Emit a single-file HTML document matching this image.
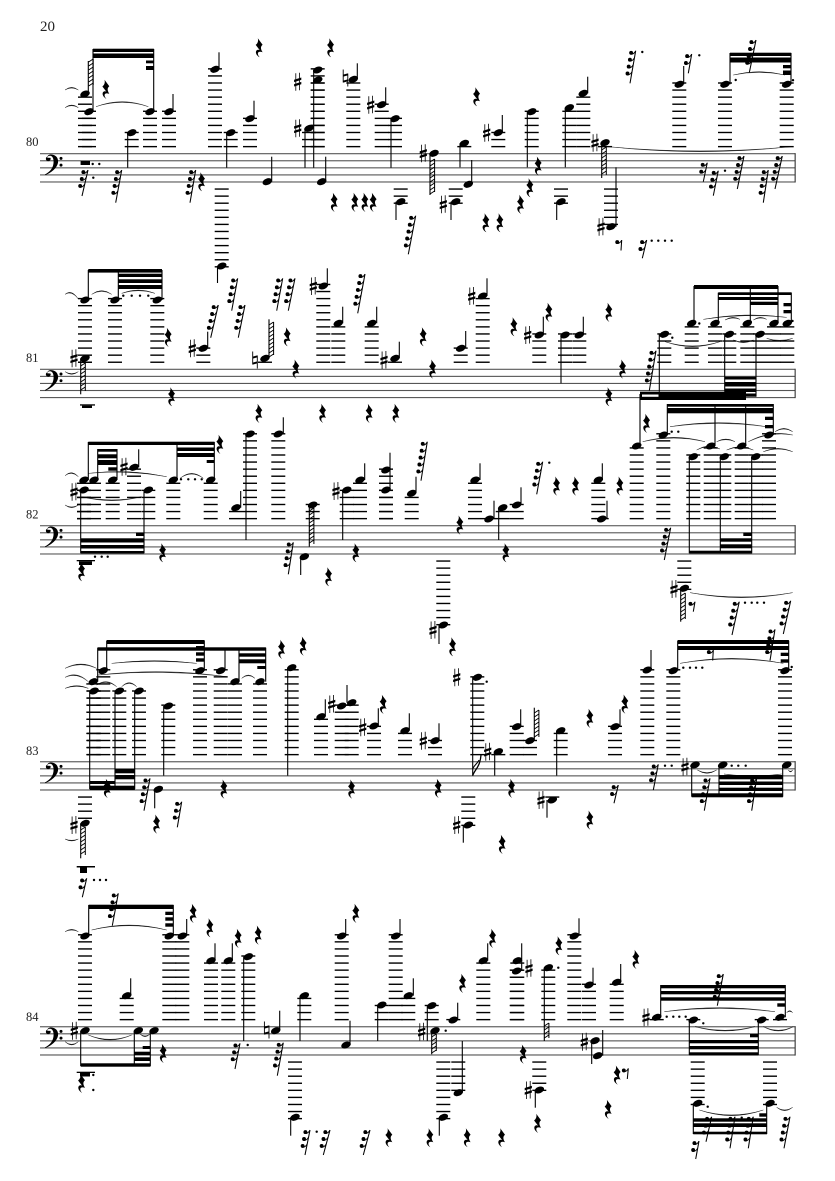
<!DOCTYPE html>
<html><head><meta charset="utf-8"><title>Score page 20</title>
<style>html,body{margin:0;padding:0;background:#fff}svg{display:block}text{font-family:"Liberation Serif",serif;fill:#222}</style></head>
<body>
<svg id="s" xmlns="http://www.w3.org/2000/svg" width="835" height="1181" viewBox="0 0 835 1181">
<rect width="835" height="1181" fill="#fff"/>
<text x="40" y="31" font-size="15">20</text>
<text x="26" y="146" font-size="12.5">80</text>
<text x="26" y="362" font-size="12.5">81</text>
<text x="26" y="518.5" font-size="12.5">82</text>
<text x="26" y="755" font-size="12.5">83</text>
<text x="26" y="1021" font-size="12.5">84</text>
<g id="m"></g>
</svg>
<script>
var o=[],top0=0,G=7.07;
function S(t,col,h){top0=t;col=col||'#555';h=h||1.1;
 for(var i=0;i<5;i++)o.push('<rect x="40" y="'+(t+i*G-h/2)+'" width="755.5" height="'+h+'" fill="'+col+'"/>');
 o.push('<rect x="794.6" y="'+(t-.5)+'" width="1.1" height="'+(4*G+1)+'" fill="#333"/>');
 o.push('<g transform="translate(45,'+(t+1)+')"><path d="M5.5,3.2a2.4,2.4 0 1,1 -3,-1.4c0,0 0,0 0,0C3,-.2 6,-.6 8,0.1C12,1.2 13.5,4.5 13,8C12,13.5 6,18 .4,20.4L0,19.7C5,17 8.6,13 8.6,7C8.6,3.5 7.4,1 5,1C3.5,1 2.4,1.8 2.2,3Z" fill="#000"/><circle cx="16" cy="3.7" r="1.5" fill="#000"/><circle cx="16" cy="10.4" r="1.5" fill="#000"/></g>');
}
function L(x1,y1,x2,y2,w,c){o.push('<line x1="'+x1+'" y1="'+y1+'" x2="'+x2+'" y2="'+y2+'" stroke="'+(c||'#000')+'" stroke-width="'+(w||1)+'"/>');}
function Rc(x1,y1,x2,y2){o.push('<rect x="'+x1+'" y="'+y1+'" width="'+(x2-x1)+'" height="'+(y2-y1)+'" fill="#000"/>');}
function Led(x,y){var k,ly,b=top0+4*G;
 if(y<top0-1.7){for(k=1;;k++){ly=top0-k*G;if(ly<y-1.8)break;L(x-7,ly,x+7,ly,1.4);}}
 if(y>b+1.7){for(k=1;;k++){ly=b+k*G;if(ly>y+1.8)break;L(x-7,ly,x+7,ly,1.4);}}
}
function A(t,x,y){
 if(t=='s')o.push('<g transform="translate('+x+','+y+')"><path d="M-1.9,-8.5V9M1.9,-9V8.5" stroke="#000" stroke-width=".8" fill="none"/><path d="M-3.6,-2L3.6,-4.2V-1.8L-3.6,.4ZM-3.6,2.4L3.6,.2V2.6L-3.6,4.8Z" fill="#000"/></g>');
 else o.push('<g transform="translate('+x+','+y+')"><path d="M-2.3,-8.5V4.5M2.3,-4.5V8.5" stroke="#000" stroke-width=".9" fill="none"/><path d="M-2.3,-3.4L2.3,-4.6V-2.6L-2.3,-1.4ZM-2.3,2.6L2.3,1.4V3.4L-2.3,4.6Z" fill="#000"/></g>');
}
function N(x,y,sx,se,t,ax,ay){Led(x,y);
 o.push('<ellipse cx="'+x+'" cy="'+y+'" rx="5" ry="3.2" transform="rotate(-22 '+x+' '+y+')" fill="#000"/>');
 if(sx!=null)L(sx,y,sx,se,1.1);
 if(t)A(t,ax,ay==null?y:ay);
}
function H(x,y0,y1,d){var p='',w=4.6*d;
 for(var y=y0;y<y1;y+=4){p+='M'+x+','+y+'L'+(x+w)+','+(y-3)+' ';}
 o.push('<path d="'+p+'M'+(x+w)+','+(y0-3)+'V'+(y1-3)+'" stroke="#000" stroke-width="1" fill="none"/>');
}
function R(x,y){o.push('<path transform="translate('+x+','+y+')" d="M-1.5,-9.5L3.3,-3C1.5,-1.5 .8,.5 3.3,4.6C1,3.6 -1.6,4 -1.4,6.2C-1.3,7.6 -.4,8.6 .4,9.6C-2.6,8 -4.2,5 -3,3C-2,1.8 -.6,1.8 .4,2.4L-3.6,-2.8C-1.4,-4.4 -.8,-7 -1.5,-9.5Z" fill="#000"/>');}
function FR(tx,ty,bx,by){var len=by-ty,n=Math.max(1,Math.round(len/8)),i,dx=(bx-tx)/len;
 L(tx,ty,bx,by,1.05);
 for(i=0;i<n;i++){var yy=ty+1+i*6.9,xx=tx+dx*(yy-ty);
  o.push('<circle cx="'+(xx-4.4)+'" cy="'+(yy+1.1)+'" r="1.95" fill="#000"/>');
  o.push('<path d="M'+(xx-5)+','+(yy+2.4)+'Q'+(xx-2)+','+(yy+3)+' '+xx+','+(yy-.6)+'" stroke="#000" stroke-width=".9" fill="none"/>');}
}
function D(x,y){o.push('<circle cx="'+x+'" cy="'+y+'" r="1.2" fill="#000"/>');}
function T(z,x1,y1,x2,y2,p){var ox=z[0],oy=z[1];x1=ox+x1/3;x2=ox+x2/3;y1=oy+y1/3;y2=oy+y2/3;p=oy+p/3;
 var cx=(x1+x2)/2,cy=2*p-(y1+y2)/2,t=p<(y1+y2)/2?1.5:-1.5;
 o.push('<path d="M'+x1+','+y1+'Q'+cx+','+cy+' '+x2+','+y2+'Q'+cx+','+(cy+t)+' '+x1+','+y1+'Z" fill="#000" stroke="#000" stroke-width=".3"/>');}
function Q(a){for(var i=0;i<a.length;i+=2)R(a[i],a[i+1]);}
function FF(a){for(var i=0;i<a.length;i+=4)FR(a[i],a[i+1],a[i+2],a[i+3]);}
function DD(a){for(var i=0;i<a.length;i+=2)D(a[i],a[i+1]);}
var Z1=[20,10],Z2=[420,30],Z3=[20,260],Z4=[420,260],Z5=[20,410],Z6=[420,410],Z7=[20,620],Z8=[420,620],Z9=[20,860],Z10=[420,860];

/* ===== system 80 ===== */
S(153.7);
N(85,94,88.3,61);H(88.6,62,88,1);
N(89,111.7,93,49);N(150,111.7,153.7,49);Rc(93,48.7,153.9,52);Rc(93,53.5,153.9,58);Rc(146,60.5,153.9,63.3);Rc(146,66,153.9,70);
T(Z1,228,290,385,290,275);T(Z1,135,240,175,240,232);T(Z1,135,293,175,293,285);
N(169,111.7,173,94);N(131.7,132.7,127.7,167.7);N(215,69.3,219,52.3);N(230.7,132.7,226.7,167.7);N(250,118.7,254,100.7);N(267.3,181.7,271.7,156.7);
N(309,128.3,305,167.7,'s',297.7);N(317.7,70,313.7,167.7);N(317.7,80,null,null,'s',297.7,81.7);N(321.7,181.7,325.7,156.7);
N(353.3,79.3,357.3,63.3,'n',345.5,78);N(381.7,104.7,385.7,87.3,'s',370.7);N(395,118.7,391,167.7);N(400.7,201.7,396,220);N(221.7,266,217.5,283);
N(434,153.3,430,195,'s',423.3);H(430,162,195,1);N(464.3,143.3,460,167.3);N(468.3,184.3,471.7,160);N(455.7,201.7,451,220,'s',443.3,204.3);
N(498.3,132.7,502.3,115,'s',486.7);N(531.7,111.7,527.3,167.3);N(569.3,107.7,565.3,167.3);N(583.3,93.3,587.7,76.7);
N(561,201.7,556.7,220);N(605,142.7,601.7,178,'s',595);H(601.7,150,178,1);N(611,226.7,616,167.3,'s',601);
T(Z2,565,350,1115,350,365);
N(679.3,84.3,683.7,66);N(725,84.3,730,53);N(786.7,84.3,791,53);Rc(730,52.7,791.2,56);Rc(730,57.5,791.2,62.5);Rc(783,65,791.2,68.3);Rc(783,70.5,791.2,75);
D(735.7,80);D(793,80.2);T(Z2,940,135,1095,135,125);
Rc(80.6,161,90,165);
Q([259.3,47.7,330.7,47.7,106,89.3,201.7,181.7,334.3,202.3,355,202.3,365,202.3,373.3,202.3,476.7,96.7,538.3,166,530,187.7,520.7,204.3,486,222.7,500,222.7]);
FF([88,170,82,196,121.7,170,115.7,202.7,195.7,170,190,202.7,415.7,215.7,408.3,254.3,635.7,50.7,630,83.3,691.7,54,688.3,73.3,756,40,749.3,72.7,707.3,162.7,703.3,181.7,718.3,170.7,713.3,195.7,744,156,737.3,189,768.3,170,763.3,202.7,782.3,156,775,189,621.7,240,621,250.5,646.7,240,642.3,258.3]);
DD([92.7,164,99.3,164,93.3,177.7,642.3,52,699.3,55.3,725,170.7,651.7,240.7,658.3,240.7,665,240.7,671.7,240.7]);

/* ===== system 81 ===== */
S(369.3);
N(85,300,88.3,270);N(115,300,118.3,270);N(157.3,300,162,270);Rc(88.3,269,162,272.6);Rc(118.3,273.7,162,277);Rc(118.3,279.3,162,283);Rc(118.3,285,162,289);
T(Z3,135,103,175,117,98);T(Z3,215,103,275,103,92);T(Z3,305,100,405,100,90);DD([123.3,295.7,131.7,295.7,140,295.7,148.3,295.7]);
N(85,358.3,80.7,394.3,'s',74);H(80.7,366,394,1);Rc(80,404.3,95,405.6);Rc(82,405.6,92,408);T(Z3,135,335,175,335,343);
N(203.3,348.3,207.7,331.7,'s',192.3);N(265,358.3,269,319.3,'n',255,360);H(269,325,358,1);N(323.3,286,327.3,268.3,'s',313.3);N(338.3,323.3,342.7,306.7);N(371.7,323.3,376.7,306.7);N(395,358.3,399.3,341.7,'s',384,360);
N(460.7,348.3,465.7,331);N(482.7,296,487,278.3,'s',471.7);N(539.3,335,543.3,316.7,'s',527.7);N(565,335,561,383.3);N(579.3,335,583.3,316.7);
N(664.3,334.3,659.3,391.7);N(691.7,323.3,694,286);N(715,323.3,718.3,292.7);N(729.3,334.3,724.7,391.7);N(747.3,323.3,750.3,286);N(760,334.3,756,396.7);N(774,323.3,778,286);N(787.3,323.3,791.3,292.7);
Rc(694,285,778,289);Rc(718.3,292.3,791.5,295);Rc(718.3,297,778,300);Rc(750.3,301.7,778,305);Rc(783.5,303,791.5,306.3);Rc(783.5,310,791.5,313.3);
Rc(640,391.7,746,400);Rc(724.7,376.7,756,379.5);Rc(724.7,382,756,386.5);Rc(724.7,388.5,756,392);Rc(746,393.5,756,396.7);
o.push('<rect x="642" y="394.5" width="16.5" height="2.3" fill="#fff"/>');
T(Z4,735,245,900,245,260);T(Z4,940,240,1000,240,248);T(Z4,1040,235,1118,235,243);T(Z4,850,178,1100,172,165);T(Z4,915,180,960,178,172);T(Z4,1000,180,1040,178,172);
DD([699.3,323.5,672.3,337.7,792.5,321]);
Q([168.3,337.3,171.7,396.7,259,413.3,287.3,336.7,296,369,322.7,413.3,369.3,413.3,396,413.3,423.3,336.7,432.7,369,514,326.7,549,312.3,609,312.3,622.7,369,609,396.7]);
FF([218.3,305,210.7,337.7,237.7,278.3,231.7,310.7,245,305,238.3,337.7,282.7,278.3,276.7,310.7,295,278.3,288.3,310.7,365,274,357.7,313.3,656,350.7,649.3,390.7]);

/* ===== system 82 ===== */
S(525.7,'#666',1.2);
N(84,480,88.3,442);N(94,480,97.7,449);N(112.7,480,117,449);N(134,467.3,138.7,449.3,'s',124,466.7);
N(84,490,80.7,553.3,'s',74,491.7);N(148.3,490,144,553.3);N(173.3,480,177,442);N(210.7,480,214.3,442);
Rc(88.3,441.7,214.5,445);Rc(97.7,449,117,451.7);Rc(97.7,454.3,117,458.3);Rc(97.7,460,117,465);Rc(108.3,467.3,117,470.7);
Rc(177,447.5,214.5,451);Rc(177,453,214.5,457);Rc(206.7,460,214.5,463);
Rc(80.7,538.3,144,542.5);Rc(80.7,545,144,548.5);Rc(80.7,551,144,553.5);Rc(136,532.7,144,536);
T(Z5,135,197,175,200,188);T(Z5,205,190,440,200,185);T(Z5,480,205,550,205,190);T(Z5,185,260,365,260,272);T(Z5,135,285,175,285,293);
DD([181,479.3,188.3,479.3,195,479.3,201.7,479.3,95,556.7,101.7,556.7,107.7,556.7]);
Rc(76.7,560,95,561.3);Rc(79,561.3,92,565);R(81.7,571.7);
N(236,507.7,240.7,491);N(250,434,246,540);N(278.3,434,283.3,417.3);N(312.7,505,309.3,546.7);H(309.3,511,547,1);N(304.3,556.7,300.7,575);
N(346.7,490,342.7,540,'s',336,491);N(360,480,364.7,463.3);N(386,470,390,452.7);N(386,490,390,470);N(411.7,493.3,416,476.7);
N(475,480,480,463.3);N(489,519,494,500.7);N(502.7,507.7,498.7,540);N(516.7,505,521,487.3);N(598.3,480,602.3,463.3);N(601.7,519,607,500.7);
N(636.7,446,640,394);N(663.3,435,667.3,404);N(710.7,446,715,404);N(741.7,446,745.7,404);N(769,435,773.3,404);
N(693.3,456.7,689.3,553.3);N(724.3,456.7,720.3,553.3);N(755.7,456.7,751.7,553.3);
Rc(689.3,550.7,752,553.5);Rc(720.3,538.3,752,541.7);Rc(720.3,544.3,752,548.3);Rc(743.3,532.7,752,536);
Rc(667.3,404,773.5,406.7);Rc(667.3,408,773.5,413.3);Rc(765,416.7,773.5,420);Rc(765,425,773.5,428.3);
T(Z6,750,50,1040,50,38);T(Z6,668,95,855,95,82);T(Z6,830,120,900,117,108);T(Z6,890,95,945,95,87);T(Z6,920,120,1000,120,110);T(Z6,985,95,1118,75,72);T(Z6,1065,65,1118,65,55);T(Z6,1030,125,1118,125,115);
DD([671.7,431.7,678.3,431.7,549.3,462.7,745,602.7,751.7,602.7,757.3,602.7,764,602.7]);
N(443.3,625,439,644,'s',433,630);N(684.3,588.3,680.7,621.7,'s',674,589);H(680.7,596,622,1);T(Z6,810,548,1118,548,563);
Q([220,444.3,162.7,552.7,356,552.7,328.7,576.7,460,525,506,552.7,556.7,486,575.7,486,620,486,646.7,423.3,452.7,646.7]);
FF([293.3,542.3,288.3,574.3,427.3,441.7,421,480.7,542.7,461.7,536.7,494.3,670.7,527.7,664.3,560,695,601.7,693.3,611.7,739.3,601.7,732,635,790.7,600.7,783.3,634]);

/* ===== system 83 ===== */
S(761.7,'#777',1.4);
N(103.3,670.7,106.7,640.7);N(93.3,681.7,97.7,647.7);N(94,691,89.7,789);N(119.3,691,115,789);N(139,691,134.7,789);
Rc(89.7,785.7,134.9,790);Rc(89.7,781,115,784);Rc(115,769,134.9,773.3);Rc(115,775,134.9,779.3);
N(200,670.7,204.3,640.7);N(220.7,670.7,225,650);N(235,681.7,239,647.7);N(260,681.7,265.7,647.7);
Rc(106.7,640,204.5,644);Rc(196,646,204.5,650);Rc(196,652.3,204.5,655.7);Rc(196,658.3,204.5,661.7);
Rc(97.7,647.3,265.9,650.7);Rc(239,653.3,265.9,656.7);Rc(239,659.3,265.9,663.3);Rc(257.3,666,265.9,669);
N(168.3,706,163.7,775.7);N(291.7,667.7,287.7,775.7);N(321,716.7,325.3,699.3);N(341.7,706,null);N(351.7,702.7,347,685,'s',331.7,704);N(374,726,378.3,708.3,'s',362.7,727.3);N(405,730.7,409.3,713.3);
N(158.3,789.3,154.7,808.3);N(85,823.3,80.7,858.3,'s',74,825);H(80.7,830,858,1);
T(Z7,135,145,230,145,132);T(Z7,135,172,205,185,165);T(Z7,135,205,205,205,197);T(Z7,230,195,290,200,185);T(Z7,305,200,350,200,188);T(Z7,275,130,530,130,122);T(Z7,235,165,620,170,155);T(Z7,665,175,705,175,165);T(Z7,135,657,175,657,663);
N(435,740.7,439,723.3,'s',423.3);N(477.3,677.3,472.7,775.7,'s',456.7);o.push('<path d="M472.7,775.7C474,770 480,768 481,755" stroke="#000" stroke-width="1.3" fill="none"/><path d="M472.7,769C474,765 478,763 479,760" stroke="#000" stroke-width="1.1" fill="none"/>');
N(498.3,751.7,494.7,775.7,'s',487.7);N(516.7,726.7,520.7,709.3);N(530,740.7,534.3,707.7);H(534.3,713,740,1);N(560.7,730.7,556.7,775.7);
N(552.3,800,547,817.7,'s',541);N(468.3,825,463.3,842.7,'s',456.7);N(615,726.7,620,709.3);N(647.3,670,651,650);
N(673.3,670.7,677.7,640.7);N(785,670.7,788.7,640.7);Rc(677.7,640,788.9,644);Rc(677.7,646,788.9,650);Rc(780.7,652.7,788.9,656);Rc(780.7,659.3,788.9,662.7);
T(Z8,780,130,1090,130,115);DD([683.3,667.7,690,667.7,696,667.7,702.3,667.7,791.7,667,486.7,681.7]);
N(695,765,691.7,796.7,'s',685,766.7);N(722.7,765,719,796.7);N(786.7,765,782.7,796.7);
Rc(691.7,793.3,782.9,797.3);Rc(719,775,782.9,779.3);Rc(719,781.5,782.9,785);Rc(719,787.7,782.9,791);
T(Z8,832,450,890,450,460);T(Z8,912,462,1085,462,470);T(Z8,1105,450,1118,450,456);
DD([731.7,765.7,738.3,765.7,745.7,765.7,665,765.7,671.7,765.7]);
Q([281.7,649.3,303.3,646,383.3,704.3,107.3,788.3,224,789,351.7,789,156.7,824,438.3,788.3,511.7,788.3,590,718.3,590,820,625,704,502.3,844.3]);
FF([150,778.3,144,810.7,181.7,801.7,177.3,827.3,658.3,764.3,653.3,790,618.3,785,614,803.3,710,778.3,704.3,810.7,756.7,778.3,751.7,810.7,775,629.3,770,660.7,713.3,650,712.7,660.5]);

/* ===== system 84 ===== */
S(1026.7,'#777',1.4);
N(85,936,88.7,905);N(169.3,936,173.3,905);N(182.3,936,186.7,919);Rc(88.7,904.7,173.5,909);Rc(165.3,911.7,173.5,915);Rc(165.3,917.3,173.5,920.7);Rc(165.3,923.3,173.5,926.7);
T(Z9,135,215,175,215,208);T(Z9,215,210,440,210,195);
N(126.7,995.7,130.7,978.3);N(211,960.7,215,943.3);N(228.3,960.7,232.3,943.3);N(248.3,956.7,243.7,1041);N(275.7,1030.7,279.7,1010.7,'n',266.7,1030);N(304.3,995.7,300,1041);N(295,1117.3,290.7,1135.7);
N(341.7,936,345.7,919);N(346,1045,350,1020.7);N(381.7,1005,377.7,1041);N(395.7,936,400,919);N(408.3,995.7,413.3,978.3);
N(85,1030.7,80.7,1066,'s',74.3);N(138.3,1030.7,134.3,1066);N(154,1030.7,150.3,1066);
Rc(80.7,1063.3,150.5,1066.7);Rc(134.3,1051.7,150.5,1055);Rc(134.3,1057.3,150.5,1061);Rc(142.7,1046,150.5,1049);
T(Z9,205,525,335,525,540);T(Z9,135,545,175,545,555);T(Z9,360,522,390,522,530);
Rc(76.7,1071.7,95,1073);Rc(80,1073,90,1076.5);R(81.7,1083.3);DD([93.3,1075,93.3,1090]);
Rc(76.7,866,95,867.5);Rc(80,867.5,87,873);DD([94,880,100,880,106,880,247.7,1045,316.7,1131.7]);
N(431.7,1005.7,427.3,1041);N(435,1030.7,431.7,1054.3,'s',421.7,1031.7);H(431.7,1037,1054,1);N(453.3,1020,457.7,1002.7);N(458.3,1092.7,462.3,1041);N(443.3,1117.3,439.3,1135.7);
N(483.3,960.7,487.7,943.3);N(517.3,960.7,521.7,943.3);N(516.7,971,521.7,960,'s',529,968.3);N(548.3,967.7,544.3,1041);H(544.3,1026,1041,1);
N(574.3,936,579,918.3);N(589,985,593,967.7);N(616.7,982.3,620.7,964);N(539.3,1090,535.3,1107.7,'s',528.3);
N(595,1040.7,591.7,1064,'s',584.3,1041.7);N(597.7,1055.7,602.7,1030);
N(656.7,1017.3,660.7,985,'s',646);N(780,1017.3,785.3,985);Rc(660.7,985,785.5,988.3);Rc(660.7,991,785.5,994.3);Rc(660.7,997.3,785.5,1000.7);Rc(777.3,1003.3,785.5,1006.7);
T(Z10,733,455,1065,455,443);DD([666.7,1016.7,673.3,1016.7,679.3,1016.7,685.7,1016.7,703.3,1023.3,445.7,1030.7,558.3,967.7,707.7,1106.7,741.7,1117.7]);
N(693.3,1020,689.3,1055);N(761.7,1020,758.3,1055);Rc(689.3,1052.3,758.5,1055.3);Rc(689.3,1046,758.5,1049.3);Rc(689.3,1040,758.5,1043.3);Rc(750,1034,758.5,1037.3);
T(Z10,825,500,1005,500,513);T(Z10,1030,500,1120,500,513);T(Z10,1100,458,1118,458,452);
N(697.7,1103.3,693.3,1134);N(770,1103.3,766.7,1134);Rc(693.3,1118.3,767,1121.7);Rc(693.3,1123.3,767,1127);Rc(693.3,1131.7,767,1134.3);Rc(759.3,1113.3,767,1116.7);
T(Z10,838,750,1030,750,767);T(Z10,1070,742,1118,742,752);
Q([193.3,913.3,210,927.7,238.3,938.3,258.3,935,356,913.3,163.3,1053.3,389,1137.7,462.7,983.3,492.7,938.3,559,945.7,636,959.3,523.3,1054,537.7,1123.3,608.3,1109.3,617.3,1075,430,1137.7,467.3,1137.7,501.7,1137.7]);
FF([86.7,878.3,82.3,897.3,118.3,893.3,112.3,925.7,240,1043.3,235,1069,283.3,1042.7,277.3,1075.7,310,1130,305,1155,330,1130,323.3,1155,370,1130,363.3,1155,628.3,1068.3,627.3,1079,723.3,974,717.3,1005.7,711.7,1116.7,706,1141.7,735,1116.7,730,1148.3,753.3,1116.7,748.3,1148.3,790,1116.7,784,1148.3,699,1141,695.7,1159]);

document.getElementById('m').innerHTML=o.join('');
</script>
</body></html>
